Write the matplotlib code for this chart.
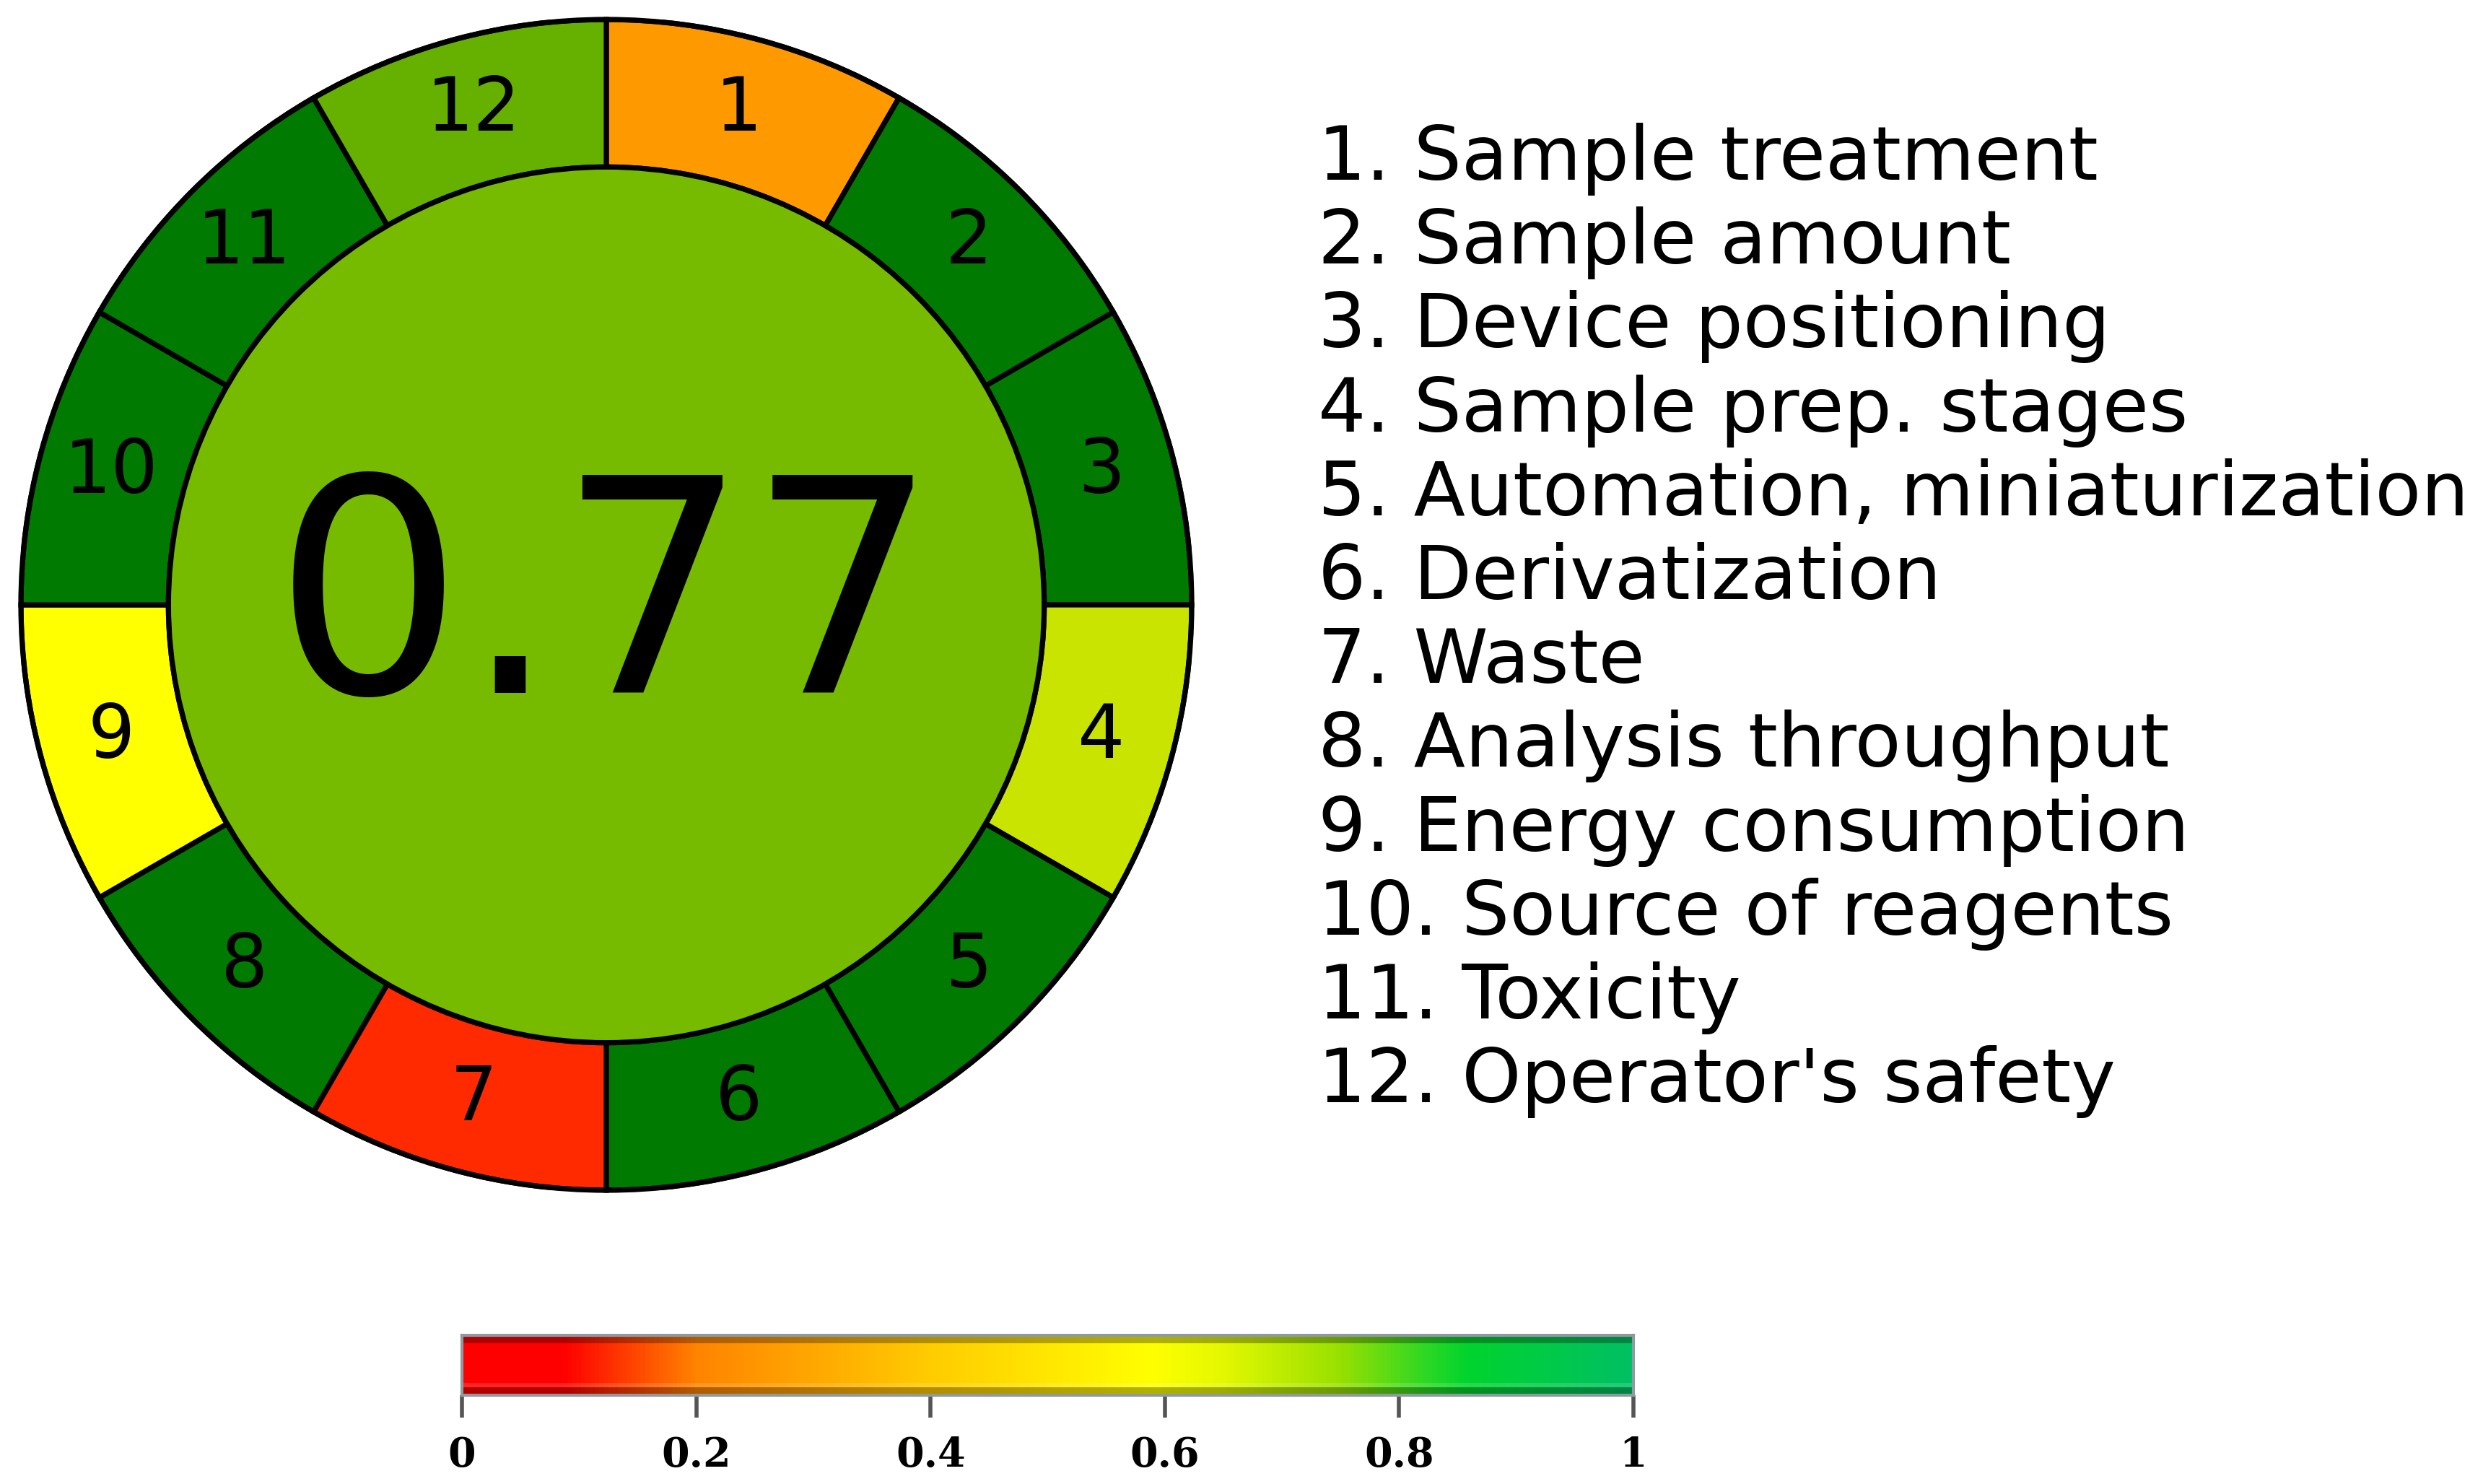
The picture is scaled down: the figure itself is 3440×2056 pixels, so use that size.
import numpy as np
import matplotlib
matplotlib.use("Agg")
import matplotlib.pyplot as plt
from matplotlib.colors import LinearSegmentedColormap
from matplotlib.patches import Circle

# AGREEprep pictogram: 12 criteria, equal weights
criteria = ["Sample treatment", "Sample amount", "Device positioning",
            "Sample prep. stages", "Automation, miniaturization", "Derivatization",
            "Waste", "Analysis throughput", "Energy consumption",
            "Source of reagents", "Toxicity", "Operator's safety"]
weights = [1, 1, 1, 1, 1, 1, 1, 1, 1, 1, 1, 1]
seg_colors = ["#FF9900", "#007A00", "#007A00", "#C8E400", "#007A00", "#007A00",
              "#FF2A00", "#007A00", "#FFFF00", "#007A00", "#007A00", "#66B000"]
total_score = 0.77
center_color = "#77BB00"

# colour scale shown under the pictogram
cbar_stops = [0.0, 0.085, 0.2, 0.4, 0.59, 0.65, 0.75, 0.82, 0.86, 1.0]
cbar_cols = ["#FF0000", "#FF0000", "#FF8400", "#FFCC00", "#FFFF00", "#E4F800",
             "#99E000", "#33D822", "#00D42E", "#00C064"]
cbar_ticks = [0, 0.2, 0.4, 0.6, 0.8, 1]
cbar_ticklabels = ["0", "0.2", "0.4", "0.6", "0.8", "1"]

W, H = 3440, 2056
DPI = 200
fig = plt.figure(figsize=(W / DPI, H / DPI), dpi=DPI)

# --- ring + centre ---
cx, cy, R = 840, 838, 811
ax = fig.add_axes([(cx - R) / W, (H - cy - R) / H, 2 * R / W, 2 * R / H])
ring_w = 0.252
lw = 2.6
wedges, _ = ax.pie(weights, colors=seg_colors, startangle=90, counterclock=False,
                   radius=1, wedgeprops=dict(width=ring_w, edgecolor="black", linewidth=lw))
ax.add_patch(Circle((0, 0), 1 - ring_w, facecolor=center_color, edgecolor="black",
                    linewidth=lw, zorder=3))
ax.add_patch(Circle((0, 0), 1, facecolor="none", edgecolor="black", linewidth=lw, zorder=3))
r_lab = 0.875
for i, w in enumerate(wedges):
    a = np.deg2rad((w.theta1 + w.theta2) / 2)
    ax.text(r_lab * np.cos(a), r_lab * np.sin(a), str(i + 1), ha="center", va="center",
            fontsize=37, color="black", zorder=4)
ax.text(0.0, -0.15, f"{total_score:.2f}", ha="center", va="baseline",
        fontsize=149, color="black", zorder=4)
ax.set_xlim(-1, 1); ax.set_ylim(-1, 1)
ax.set_aspect("equal")
ax.axis("off")

# --- criteria list ---
for i, name in enumerate(criteria):
    yb = 249 + 116.2 * i
    fig.text(1826 / W, 1 - yb / H, f"{i + 1}. {name}", fontsize=37.6, va="baseline",
             ha="left", color="black")

# --- colour bar ---
cmap = LinearSegmentedColormap.from_list("agree", list(zip(cbar_stops, cbar_cols)))
x0, x1, yt, yb = 640, 2263, 1850, 1933
cax = fig.add_axes([x0 / W, (H - yb) / H, (x1 - x0) / W, (yb - yt) / H])
grad = np.linspace(0, 1, 512)[None, :]
cax.imshow(grad, aspect="auto", cmap=cmap, extent=[0, 1, 0, 1])
# darker bands top and bottom for the bevel look
cax.axhspan(0.0, 0.13, color="black", alpha=0.3, lw=0)
cax.axhspan(0.87, 1.0, color="black", alpha=0.3, lw=0)
cax.axhspan(0.13, 0.2, color="white", alpha=0.15, lw=0)
cax.set_xlim(0, 1); cax.set_ylim(0, 1)
cax.set_yticks([])
cax.set_xticks(cbar_ticks)
cax.set_xticklabels(cbar_ticklabels, family="DejaVu Serif", fontweight="bold", fontsize=20)
cax.tick_params(axis="x", length=11, width=2, color="#555555", pad=9)
for s in cax.spines.values():
    s.set_color("#8E9AA0"); s.set_linewidth(1.5)

fig.savefig("out.png", dpi=DPI, facecolor="white")
